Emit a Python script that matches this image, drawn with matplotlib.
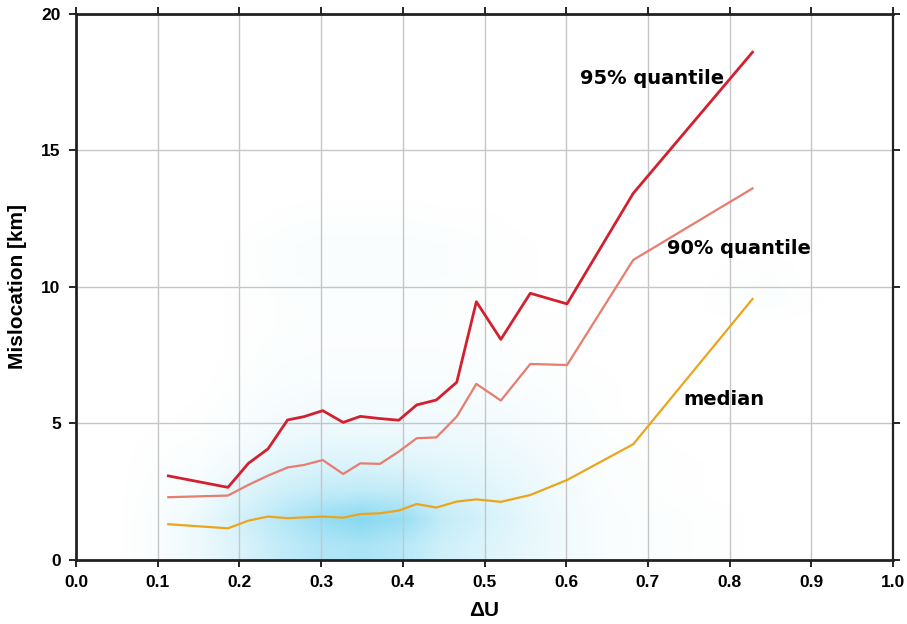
import numpy as np
import matplotlib
matplotlib.use("Agg")
import matplotlib.pyplot as plt

# Quantile curves of mislocation versus delta-U
du = [0.113, 0.186, 0.211, 0.235, 0.259, 0.279, 0.302, 0.327, 0.348, 0.372,
      0.395, 0.417, 0.441, 0.466, 0.490, 0.520, 0.556, 0.601, 0.682, 0.828]
q95 = [3.08, 2.66, 3.54, 4.07, 5.13, 5.25, 5.47, 5.04, 5.26, 5.18,
       5.12, 5.68, 5.86, 6.51, 9.46, 8.08, 9.77, 9.38, 13.43, 18.60]
q90 = [2.30, 2.36, 2.75, 3.09, 3.39, 3.48, 3.66, 3.15, 3.54, 3.52,
       3.97, 4.46, 4.49, 5.25, 6.45, 5.84, 7.18, 7.14, 10.99, 13.61]
median = [1.31, 1.16, 1.44, 1.59, 1.53, 1.56, 1.59, 1.55, 1.68, 1.71,
          1.81, 2.05, 1.92, 2.14, 2.22, 2.13, 2.38, 2.93, 4.24, 9.56]

# Relative density of individual events (rows: mislocation bins, cols: delta-U bins)
dens_x = [0.05, 0.10, 0.15, 0.20, 0.25, 0.30, 0.35, 0.40, 0.45, 0.50,
          0.55, 0.60, 0.65, 0.70, 0.75, 0.80, 0.85, 0.90, 0.95]
dens_y = [0.5, 1.5, 2.5, 3.5, 4.5, 5.5, 6.5, 7.5, 8.5, 9.5, 10.5, 11.5, 12.5, 13.5]
density = [
    [0, 0.05, 0.15, 0.30, 0.50, 0.65, 0.70, 0.60, 0.40, 0.30, 0.20, 0.12, 0.05, 0.03, 0.02, 0.01, 0.00, 0.00, 0],
    [0, 0.05, 0.15, 0.35, 0.60, 0.85, 1.00, 0.85, 0.50, 0.35, 0.22, 0.12, 0.05, 0.03, 0.02, 0.01, 0.00, 0.00, 0],
    [0, 0.03, 0.08, 0.25, 0.40, 0.50, 0.55, 0.50, 0.35, 0.28, 0.18, 0.10, 0.04, 0.02, 0.01, 0.00, 0.00, 0.00, 0],
    [0, 0.02, 0.04, 0.12, 0.25, 0.30, 0.30, 0.28, 0.25, 0.20, 0.14, 0.08, 0.03, 0.02, 0.01, 0.00, 0.00, 0.00, 0],
    [0, 0.01, 0.02, 0.06, 0.14, 0.17, 0.17, 0.16, 0.15, 0.14, 0.10, 0.06, 0.02, 0.01, 0.00, 0.00, 0.00, 0.00, 0],
    [0, 0.00, 0.01, 0.04, 0.08, 0.10, 0.10, 0.10, 0.10, 0.09, 0.07, 0.04, 0.01, 0.00, 0.00, 0.00, 0.00, 0.00, 0],
    [0, 0.00, 0.00, 0.02, 0.05, 0.06, 0.06, 0.06, 0.06, 0.05, 0.04, 0.02, 0.01, 0.00, 0.00, 0.00, 0.00, 0.00, 0],
    [0, 0.00, 0.00, 0.01, 0.03, 0.04, 0.04, 0.04, 0.04, 0.03, 0.02, 0.01, 0.00, 0.00, 0.00, 0.00, 0.00, 0.00, 0],
    [0, 0.00, 0.00, 0.01, 0.02, 0.03, 0.03, 0.03, 0.03, 0.02, 0.01, 0.01, 0.00, 0.00, 0.00, 0.00, 0.00, 0.00, 0],
    [0, 0.00, 0.00, 0.01, 0.02, 0.03, 0.03, 0.03, 0.02, 0.02, 0.01, 0.00, 0.00, 0.00, 0.00, 0.02, 0.03, 0.01, 0],
    [0, 0.00, 0.00, 0.01, 0.03, 0.05, 0.05, 0.05, 0.04, 0.02, 0.01, 0.00, 0.00, 0.00, 0.00, 0.01, 0.02, 0.00, 0],
    [0, 0.00, 0.00, 0.01, 0.03, 0.05, 0.05, 0.05, 0.04, 0.02, 0.01, 0.00, 0.00, 0.00, 0.00, 0.00, 0.00, 0.00, 0],
    [0, 0.00, 0.00, 0.00, 0.01, 0.02, 0.02, 0.02, 0.01, 0.01, 0.00, 0.00, 0.00, 0.00, 0.00, 0.00, 0.00, 0.00, 0],
    [0, 0.00, 0.00, 0.00, 0.00, 0.00, 0.00, 0.00, 0.00, 0.00, 0.00, 0.00, 0.00, 0.00, 0.00, 0.00, 0.00, 0.00, 0],
]

x_ticks = [0.0, 0.1, 0.2, 0.3, 0.4, 0.5, 0.6, 0.7, 0.8, 0.9, 1.0]
y_ticks = [0, 5, 10, 15, 20]

plt.rcParams["font.family"] = ["Liberation Sans", "DejaVu Sans"]

fig = plt.figure(figsize=(9.07, 6.24), dpi=100)
ax = fig.add_axes([0.0838, 0.1026, 0.9008, 0.875])

# event cloud as a density haze
d = np.array(density)
rgba = np.zeros(d.shape + (4,))
rgba[..., 0] = 0.24
rgba[..., 1] = 0.76
rgba[..., 2] = 0.92
rgba[..., 3] = np.clip(d * 0.62, 0, 1)
dx = dens_x[1] - dens_x[0]
dy = dens_y[1] - dens_y[0]
ax.imshow(rgba, origin="lower", aspect="auto", interpolation="bilinear",
          extent=[dens_x[0] - dx / 2, dens_x[-1] + dx / 2,
                  dens_y[0] - dy / 2, dens_y[-1] + dy / 2],
          zorder=0.5)

ax.plot(du, q95, color="#d3202f", lw=2.0, zorder=4)
ax.plot(du, q90, color="#e87c6f", lw=1.6, zorder=3)
ax.plot(du, median, color="#eba51c", lw=1.6, zorder=3)

lab_kw = dict(fontsize=14, fontweight="bold", va="center", ha="left",
              family=["DejaVu Sans"], zorder=5)
ax.text(0.617, 17.65, "95% quantile", **lab_kw)
ax.text(0.723, 11.4, "90% quantile", **lab_kw)
ax.text(0.743, 5.86, "median", **lab_kw)

ax.set_xlim(0, 1.0)
ax.set_ylim(0, 20)
ax.set_xticks(x_ticks)
ax.set_yticks(y_ticks)
ax.set_xticklabels([f"{v:.1f}" for v in x_ticks])
ax.set_yticklabels([str(v) for v in y_ticks])
ax.grid(True, color="#c6c6c6", lw=1.0, zorder=1)
ax.set_axisbelow(True)

for side, sp in ax.spines.items():
    sp.set_linewidth(2.0 if side in ("left", "bottom", "top") else 1.6)
    sp.set_color("#222222")

ax.tick_params(axis="both", which="major", direction="out", length=5, width=1.2,
               labelsize=12.5, pad=6)
ax.tick_params(axis="both", which="major", top=True, right=True)
ax.tick_params(axis="x", which="major", top=True)
ax.xaxis.set_tick_params(which="major", length=5)
for lab in ax.get_xticklabels() + ax.get_yticklabels():
    lab.set_fontweight("bold")

ax.set_xlabel("ΔU", fontsize=15, fontweight="bold", labelpad=8)
ax.set_ylabel("Mislocation [km]", fontsize=15, fontweight="bold", labelpad=10)

fig.savefig("out.png", dpi=100)
